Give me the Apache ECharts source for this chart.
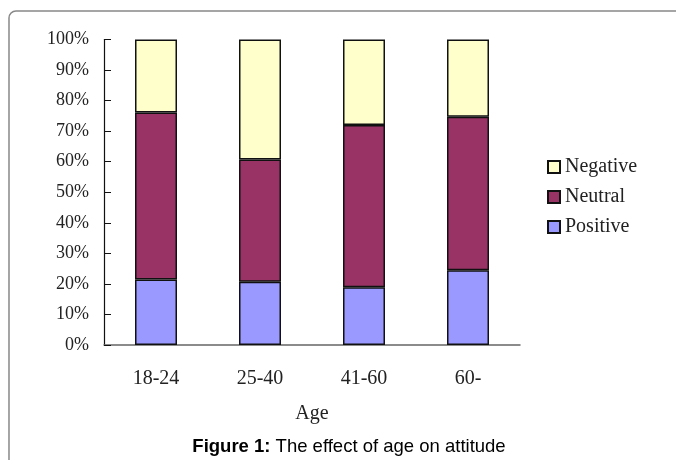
<!DOCTYPE html>
<html>
<head>
<meta charset="utf-8">
<script src="https://cdn.jsdelivr.net/npm/echarts@6/dist/echarts.min.js"></script>
<style>html,body{margin:0;padding:0;background:#fff;}#c{width:676px;height:460px;}</style>
</head>
<body>
<div id="c"></div>
<script>
const categories = ['18-24', '25-40', '41-60', '60-'];
const positive = [21.4, 20.7, 18.9, 24.5];
const neutral = [54.7, 40.0, 53.1, 50.2];
const negative = [23.9, 39.3, 28.0, 25.3];
const yTicks = { min: 0, max: 100, interval: 10 };
const xAxisTitle = 'Age';
const caption = 'The effect of age on attitude';

const serif = '"Liberation Serif", "DejaVu Serif", serif';
const chart = echarts.init(document.getElementById('c'), null, { renderer: 'canvas' });
const barBorder = { borderColor: '#111', borderWidth: 1.5 };
chart.setOption({
  animation: false,
  backgroundColor: '#fff',
  grid: { left: 104, right: 156, top: 39.5, bottom: 115, containLabel: false },
  legend: {
    orient: 'vertical', left: 542, top: 152,
    itemWidth: 12, itemHeight: 12, itemGap: 10,
    icon: 'rect',
    data: ['Negative', 'Neutral', 'Positive'],
    textStyle: { fontFamily: serif, fontSize: 20, color: '#222', lineHeight: 20 }
  },
  xAxis: {
    type: 'category', data: categories,
    name: xAxisTitle, nameLocation: 'middle', nameGap: 59,
    nameTextStyle: { fontFamily: serif, fontSize: 20, color: '#222' },
    axisLine: { lineStyle: { color: '#666', width: 1.5 } },
    axisTick: { inside: true, length: 7, lineStyle: { color: '#444', width: 1 } },
    axisLabel: { fontFamily: serif, fontSize: 20, color: '#222', margin: 24 }
  },
  yAxis: {
    type: 'value', min: yTicks.min, max: yTicks.max, interval: yTicks.interval,
    axisLine: { show: true, lineStyle: { color: '#111', width: 1.2 } },
    axisTick: { show: true, inside: true, length: 7, lineStyle: { color: '#111' } },
    splitLine: { show: false },
    axisLabel: { formatter: '{value}%', fontFamily: serif, fontSize: 18, color: '#222', margin: 15, padding: [6, 0, 0, 0] }
  },
  series: [
    { name: 'Positive', type: 'bar', stack: 'a', data: positive, barWidth: 42,
      itemStyle: Object.assign({ color: '#9999FF' }, barBorder) },
    { name: 'Neutral', type: 'bar', stack: 'a', data: neutral, barWidth: 42,
      itemStyle: Object.assign({ color: '#993366' }, barBorder) },
    { name: 'Negative', type: 'bar', stack: 'a', data: negative, barWidth: 42,
      itemStyle: Object.assign({ color: '#FFFFCC' }, barBorder) }
  ],
  graphic: [
    { type: 'rect', shape: { x: 9, y: 11, width: 720, height: 520, r: 7 },
      style: { fill: 'none', stroke: '#888', lineWidth: 1.5 }, silent: true },
    { type: 'text', x: 349, y: 447,
      style: { text: '{b|Figure 1:} ' + caption, fontFamily: 'Arial, "Liberation Sans", sans-serif',
        fontSize: 18.5, fill: '#000', align: 'center', verticalAlign: 'middle',
        rich: { b: { fontWeight: 'bold', fontSize: 18.5, fontFamily: 'Arial, "Liberation Sans", sans-serif' } } } }
  ]
});
</script>
</body>
</html>
